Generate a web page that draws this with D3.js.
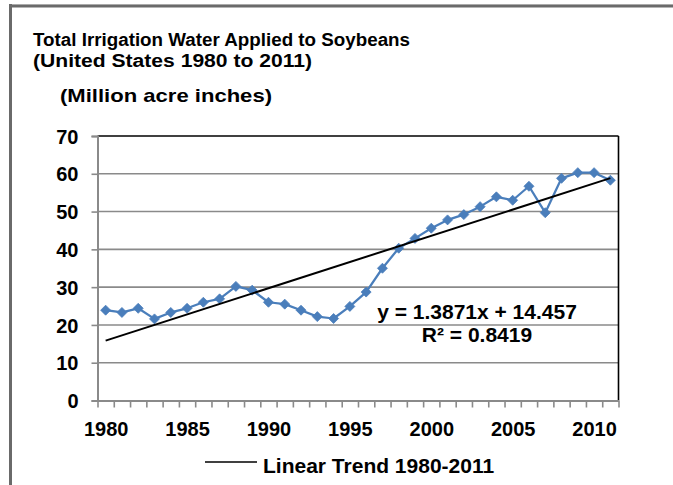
<!DOCTYPE html>
<html>
<head>
<meta charset="utf-8">
<script src="https://cdn.jsdelivr.net/npm/d3@7"></script>
<style>
  html, body { margin: 0; padding: 0; background: #fff; }
  svg { display: block; }
  text { font-family: "Liberation Sans", Arial, sans-serif; font-weight: bold; fill: #000; }
</style>
</head>
<body>
<svg id="chart" width="673" height="485"></svg>
<script>
// ---- Data ----
const years = [1980,1981,1982,1983,1984,1985,1986,1987,1988,1989,1990,1991,1992,1993,1994,1995,
               1996,1997,1998,1999,2000,2001,2002,2003,2004,2005,2006,2007,2008,2009,2010,2011];
const water = [23.9,23.3,24.4,21.6,23.3,24.4,26.0,26.9,30.2,29.2,26.0,25.5,23.9,22.2,21.7,24.9,
               28.7,35.0,40.3,42.9,45.6,47.8,49.2,51.3,53.9,53.0,56.7,49.7,58.8,60.3,60.3,58.3];
const xTickLabels = [1980,1985,1990,1995,2000,2005,2010];
const yTicks = [0,10,20,30,40,50,60,70];
const trendSlope = 1.3871;
const trendIntercept = 14.457;
const titleLines = ["Total Irrigation Water Applied to Soybeans", "(United States 1980 to 2011)"];
const unitLabel = "(Million acre inches)";
const equationLines = ["y = 1.3871x + 14.457", "R\u00B2 = 0.8419"];
const legendLabel = "Linear Trend 1980-2011";

// ---- Layout ----
const svg = d3.select("#chart");
const L = 97.5, R = 618.5, T = 136, B = 400.5;
const blue = "#4A7EBB", grid = "#8a8a8a";

// frame
svg.append("rect").attr("x", 9).attr("y", 4).attr("width", 680).attr("height", 3.5).attr("fill", "#6a6a6a");
svg.append("rect").attr("x", 9).attr("y", 4).attr("width", 3).attr("height", 490).attr("fill", "#6a6a6a");
svg.append("rect").attr("x", 12).attr("y", 4).attr("width", 680).attr("height", 1).attr("fill", "#aaaaaa");

// titles
svg.append("text").attr("x", 33).attr("y", 46).style("font-size", "18px")
  .attr("textLength", 377).attr("lengthAdjust", "spacingAndGlyphs").text(titleLines[0]);
svg.append("text").attr("x", 33).attr("y", 66.5).style("font-size", "18px")
  .attr("textLength", 279).attr("lengthAdjust", "spacingAndGlyphs").text(titleLines[1]);
svg.append("text").attr("x", 60).attr("y", 102).style("font-size", "18.5px")
  .attr("textLength", 212).attr("lengthAdjust", "spacingAndGlyphs").text(unitLabel);

// scales
const x = d3.scaleLinear().domain([years[0] - 0.5, years[years.length - 1] + 0.5]).range([L, R]);
const y = d3.scaleLinear().domain([0, 70]).range([B, T]);

// gridlines
svg.append("g").selectAll("line").data(yTicks.filter(v => v > 0 && v < 70)).join("line")
  .attr("x1", L).attr("x2", R).attr("y1", d => y(d)).attr("y2", d => y(d))
  .attr("stroke", grid).attr("stroke-width", 1.6);

// plot border top / right (black)
svg.append("line").attr("x1", L).attr("x2", R).attr("y1", y(70)).attr("y2", y(70)).attr("stroke", "#000").attr("stroke-width", 1.6);
svg.append("line").attr("x1", R).attr("x2", R).attr("y1", y(70)).attr("y2", B).attr("stroke", "#000").attr("stroke-width", 1.6);

// y axis
const yAxis = svg.append("g").attr("transform", `translate(${L},0)`)
  .call(d3.axisLeft(y).tickValues(yTicks).tickSize(6).tickPadding(13).tickFormat(d3.format("d")));
yAxis.select(".domain").attr("stroke", grid).attr("stroke-width", 2);
yAxis.selectAll(".tick line").attr("stroke", grid).attr("stroke-width", 1.6);
yAxis.selectAll(".tick text").style("font-size", "20px").style("font-family", "Liberation Sans, Arial, sans-serif").attr("font-weight", "bold").attr("dy", "0.36em");

// x axis tick marks (category boundaries)
const bounds = years.map(v => v - 0.5).concat([years[years.length - 1] + 0.5]);
const xAxisTicks = svg.append("g").attr("transform", `translate(0,${B})`)
  .call(d3.axisBottom(x).tickValues(bounds).tickSize(7).tickSizeOuter(0).tickFormat(""));
xAxisTicks.select(".domain").attr("stroke", grid).attr("stroke-width", 2);
xAxisTicks.selectAll(".tick line").attr("stroke", grid).attr("stroke-width", 1.6);

// x axis labels
const xAxisLabels = svg.append("g").attr("transform", `translate(0,${B})`)
  .call(d3.axisBottom(x).tickValues(xTickLabels).tickSize(0).tickPadding(21).tickFormat(d3.format("d")));
xAxisLabels.select(".domain").remove();
xAxisLabels.selectAll(".tick text").style("font-size", "20px").style("font-family", "Liberation Sans, Arial, sans-serif").attr("font-weight", "bold");

// data line
const line = d3.line().x((d, i) => x(years[i])).y(d => y(d));
svg.append("path").datum(water).attr("d", line).attr("fill", "none")
  .attr("stroke", blue).attr("stroke-width", 2.25).attr("stroke-linejoin", "round");

// markers
svg.append("g").selectAll("path").data(water).join("path")
  .attr("transform", (d, i) => `translate(${x(years[i])},${y(d)})`)
  .attr("d", "M0,-5L5,0L0,5L-5,0Z").attr("fill", blue).attr("stroke", blue).attr("stroke-width", 0.8);

// trend line
const trendPts = [years[0], years[years.length - 1]].map(yr => [yr, trendSlope * (yr - years[0] + 1) + trendIntercept]);
svg.append("path").datum(trendPts)
  .attr("d", d3.line().x(d => x(d[0])).y(d => y(d[1])))
  .attr("stroke", "#000").attr("stroke-width", 2).attr("fill", "none");

// equation
svg.append("text").attr("x", 477).attr("y", 319).attr("text-anchor", "middle").style("font-size", "21px").text(equationLines[0]);
svg.append("text").attr("x", 477).attr("y", 342).attr("text-anchor", "middle").style("font-size", "21px").text(equationLines[1]);

// legend
svg.append("line").attr("x1", 205).attr("x2", 257).attr("y1", 462).attr("y2", 462).attr("stroke", "#000").attr("stroke-width", 1.6);
svg.append("text").attr("x", 263).attr("y", 473).style("font-size", "21px").text(legendLabel);
</script>
</body>
</html>
